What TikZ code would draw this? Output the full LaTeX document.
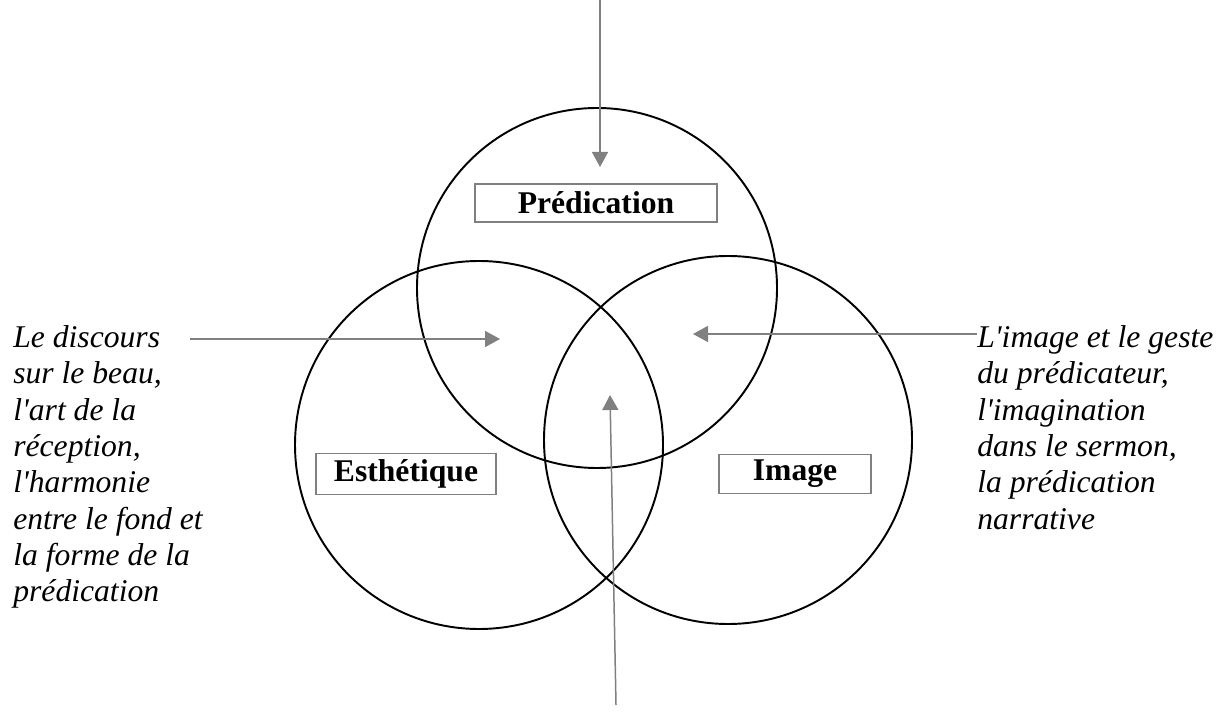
\documentclass[tikz,border=0pt]{standalone}
\usepackage{fontspec}
\setmainfont{Liberation Serif}[Ligatures=TeXOff]
\usetikzlibrary{arrows.meta}
\definecolor{arrgray}{RGB}{128,128,128}

\begin{document}
\begin{tikzpicture}[x=0.02cm,y=-0.02cm,
  ring/.style={draw=black,line width=1.1pt},
  lbl/.style={draw=arrgray,line width=0.8pt,inner sep=0pt,
    font=\fontsize{18}{20.7}\selectfont\bfseries},
  note/.style={anchor=north west,align=left,inner sep=0pt,
    font=\fontsize{18}{20.7}\selectfont\itshape},
  arr/.style={draw=arrgray,line width=0.85pt,
    -{Triangle[length=0.3cm,width=0.32cm]}}]
\useasboundingbox (0,0) rectangle (1226,715);
% the three circles
\draw[ring] (597,288) circle[radius=180];
\draw[ring] (479,445) circle[radius=184];
\draw[ring] (728,440) circle[radius=184];
% labels
\node[lbl,minimum width=4.84cm,minimum height=0.76cm] (pred) at (596,203) {Prédication};
\node[lbl,minimum width=3.6cm,minimum height=0.82cm] (esth) at (406,474) {Esthétique};
\node[lbl,minimum width=3.04cm,minimum height=0.78cm] (img) at (795,474) {Image};
% side texts
\node[note] (beau) at (13,325) {Le discours\\sur le beau,\\l'art de la\\réception,\\l'harmonie\\entre le fond et\\la forme de la\\prédication};
\node[note] (geste) at (977,325) {L'image et le geste\\du prédicateur,\\l'imagination\\dans le sermon,\\la prédication\\narrative};
% arrows
\coordinate (topA) at (600,0);
\coordinate (topB) at (600,167);
\coordinate (leftA) at (190,339);
\coordinate (leftB) at (500,339);
\coordinate (rightA) at (977,334);
\coordinate (rightB) at (693,334);
\coordinate (botA) at (616,705);
\coordinate (botB) at (610,395);
\draw[arr] (topA) -- (topB);
\draw[arr] (leftA) -- (leftB);
\draw[arr] (rightA) -- (rightB);
\draw[arr] (botA) -- (botB);
\end{tikzpicture}
\end{document}
